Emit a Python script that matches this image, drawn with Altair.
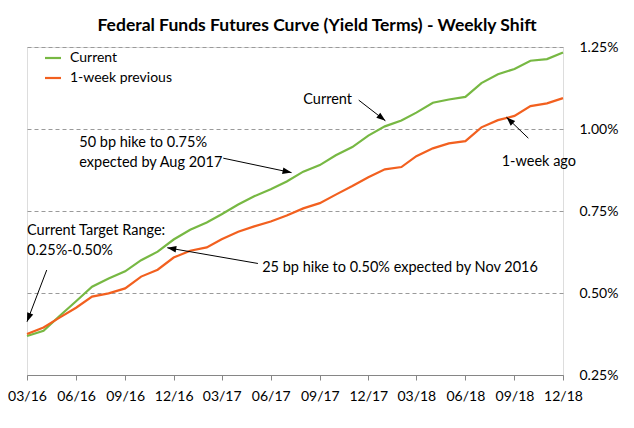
import math
import altair as alt
import pandas as pd

# ---------------- data ----------------
months = pd.date_range("2016-03-01", "2018-12-01", freq="MS").strftime("%Y-%m-%d").tolist()

current = [0.369, 0.385, 0.430, 0.475, 0.519, 0.544, 0.566, 0.600, 0.626, 0.663,
           0.693, 0.715, 0.740, 0.770, 0.795, 0.816, 0.840, 0.870, 0.890, 0.920,
           0.945, 0.980, 1.008, 1.026, 1.050, 1.080, 1.090, 1.098, 1.140, 1.167,
           1.183, 1.208, 1.213, 1.233]
previous = [0.375, 0.395, 0.425, 0.455, 0.489, 0.499, 0.514, 0.550, 0.571, 0.608,
            0.629, 0.639, 0.664, 0.687, 0.703, 0.718, 0.736, 0.758, 0.774, 0.800,
            0.826, 0.853, 0.877, 0.884, 0.917, 0.941, 0.956, 0.963, 1.005, 1.027,
            1.040, 1.070, 1.078, 1.094]

series_names = ["Current", "1-week previous"]
series_colors = ["#77B843", "#F2601F"]

y_ticks = [0.25, 0.50, 0.75, 1.00, 1.25]
x_tick_months = [(2016, 3), (2016, 6), (2016, 9), (2016, 12), (2017, 3), (2017, 6),
                 (2017, 9), (2017, 12), (2018, 3), (2018, 6), (2018, 9), (2018, 12)]

title_text = "Federal Funds Futures Curve (Yield Terms) - Weekly Shift"

# annotation texts (anchor date, value, text)
note_dates = ["2017-08-01", "2018-08-08", "2016-06-07", "2016-06-07",
              "2016-03-01", "2016-03-01", "2017-05-16"]
note_values = [1.088, 0.900, 0.958, 0.897, 0.690, 0.629, 0.575]
note_texts = ["Current", "1-week ago", "50 bp hike to 0.75%", "expected by Aug 2017",
              "Current Target Range:", "0.25%-0.50%",
              "25 bp hike to 0.50% expected by Nov 2016"]

# arrows (tail -> head)
arrow_tail_dates = ["2017-11-13", "2018-09-27", "2017-03-04", "2016-04-07", "2017-05-08"]
arrow_tail_values = [1.088, 0.972, 0.911, 0.570, 0.590]
arrow_head_dates = ["2018-01-02", "2018-08-17", "2017-07-10", "2016-03-01", "2016-11-19"]
arrow_head_values = [1.025, 1.036, 0.867, 0.4125, 0.638]

# ---------------- layout ----------------
W, H = 536, 328
x_start, x_end = "2016-03-01", "2018-12-01"
y_min, y_max = 0.25, 1.25
FONT = "Lato"

df = pd.DataFrame({
    "date": months * 2,
    "value": current + previous,
    "series": [series_names[0]] * len(months) + [series_names[1]] * len(months),
})

notes = pd.DataFrame({"date": note_dates, "value": note_values, "text": note_texts})

# arrowhead angles, from the plot's pixels per unit
total_days = (pd.Timestamp(x_end) - pd.Timestamp(x_start)).days
angles = []
for td, tv, hd, hv in zip(arrow_tail_dates, arrow_tail_values, arrow_head_dates, arrow_head_values):
    dx = (pd.Timestamp(hd) - pd.Timestamp(td)).days * W / total_days
    dy = -(hv - tv) * H / (y_max - y_min)
    angles.append((math.degrees(math.atan2(dx, -dy)) + 360) % 360)

arrows = pd.DataFrame({
    "tdate": arrow_tail_dates, "tvalue": arrow_tail_values,
    "hdate": arrow_head_dates, "hvalue": arrow_head_values, "angle": angles,
})

x_scale = alt.Scale(
    type="utc",
    domain=[alt.DateTime(year=2016, month=3, date=1, utc=True),
            alt.DateTime(year=2018, month=12, date=1, utc=True)],
)
y_scale = alt.Scale(domain=[y_min, y_max], nice=False, zero=False)

x_axis = alt.Axis(
    values=[alt.DateTime(year=y, month=m, date=1, utc=True) for y, m in x_tick_months],
    labelExpr="utcFormat(datum.value, '%m/%y')", title=None, grid=False,
    domainColor="#868686", tickColor="#868686", tickSize=5, labelPadding=9,
    labelFont=FONT, labelFontSize=14, labelColor="#000000", labelFlush=False,
    labelOverlap=False, zindex=1,
)
y_axis = alt.Axis(
    orient="right", values=y_ticks, labelExpr="format(datum.value, '.2f') + '%'",
    title=None, domain=False, ticks=False, grid=True, gridDash=[4, 3],
    gridColor="#9A9A9A", gridWidth=1, labelPadding=16,
    labelFont=FONT, labelFontSize=14, labelColor="#000000",
)

lines = alt.Chart(df).mark_line(strokeWidth=2.2).encode(
    x=alt.X("date:T", scale=x_scale, axis=x_axis),
    y=alt.Y("value:Q", scale=y_scale, axis=y_axis),
    color=alt.Color(
        "series:N",
        scale=alt.Scale(domain=series_names, range=series_colors),
        legend=alt.Legend(
            title=None, orient="none", legendX=19, legendY=4,
            symbolType="M-1.6,0H1.6", symbolSize=100, symbolStrokeWidth=2.2,
            labelFont=FONT, labelFontSize=14, labelColor="#000000",
            labelOffset=10, rowPadding=6, padding=0,
        ),
    ),
)

text_layer = alt.Chart(notes).mark_text(
    align="left", baseline="middle", font=FONT, fontSize=14.5, color="#000000"
).encode(
    x=alt.X("date:T", scale=x_scale),
    y=alt.Y("value:Q", scale=y_scale),
    text="text:N",
)

arrow_lines = alt.Chart(arrows).mark_rule(color="#000000", strokeWidth=1).encode(
    x=alt.X("tdate:T", scale=x_scale),
    y=alt.Y("tvalue:Q", scale=y_scale),
    x2="hdate:T",
    y2="hvalue:Q",
)

arrow_heads = alt.Chart(arrows).mark_point(
    shape="M0,0L-0.36,1L0.36,1Z", filled=True, color="#000000", opacity=1, size=324
).encode(
    x=alt.X("hdate:T", scale=x_scale),
    y=alt.Y("hvalue:Q", scale=y_scale),
    angle=alt.Angle("angle:Q", scale=None),
)

chart = alt.layer(lines, text_layer, arrow_lines, arrow_heads).properties(
    width=W, height=H,
    title=alt.TitleParams(
        title_text, font=FONT, fontSize=17.5, fontWeight="bold", color="#000000",
        anchor="middle", dx=22, offset=6,
    ),
    autosize=alt.AutoSizeParams(type="none"),
    padding={"left": 19, "top": 39, "right": 63, "bottom": 45},
).configure_view(stroke=None).configure(background="#FFFFFF")

chart.save("out.html", embed_options={"renderer": "svg", "actions": False})
